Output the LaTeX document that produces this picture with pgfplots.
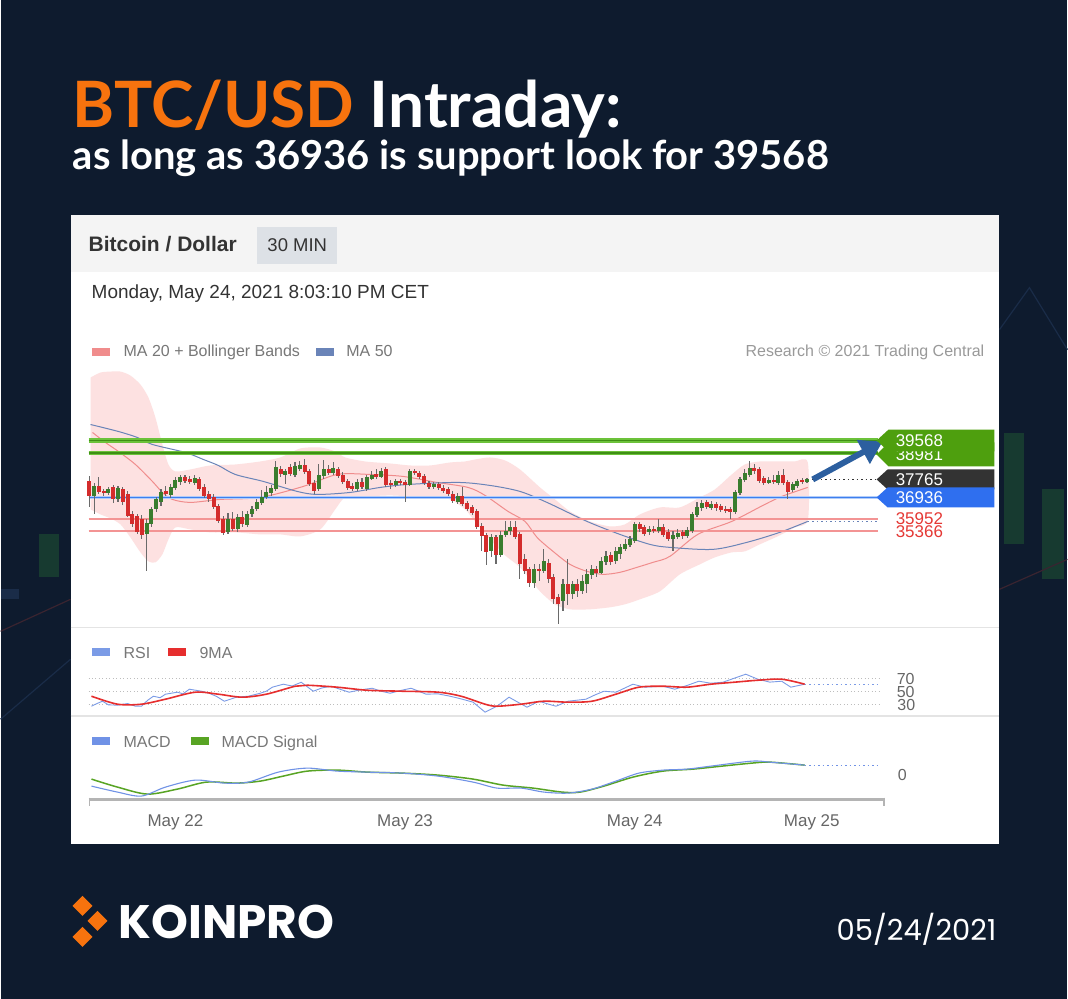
\documentclass[border=0pt]{standalone}
\usepackage{fontspec}
\setmainfont{Liberation Sans}
\newfontfamily\lato{Lato}
\newfontfamily\pop{Poppins}
\usepackage{pgfplots}
\pgfplotsset{compat=1.18}
\usepackage{pgfplotstable}
\usetikzlibrary{arrows.meta}

\definecolor{bgnavy}{HTML}{0E1B2E}
\definecolor{korange}{HTML}{F7730E}
\definecolor{headgrey}{HTML}{F4F4F4}
\definecolor{boxgrey}{HTML}{DDE1E6}
\definecolor{txtdark}{HTML}{333333}
\definecolor{txtgrey}{HTML}{777777}
\definecolor{txtlight}{HTML}{999999}
\definecolor{labelgrey}{HTML}{666666}
\definecolor{bandpink}{HTML}{FDE1E1}
\definecolor{ma20}{HTML}{F08C8C}
\definecolor{ma50}{HTML}{6A84B8}
\definecolor{lvlgreen}{HTML}{6CC23A}
\definecolor{lvlgreendk}{HTML}{3F8F15}
\definecolor{lvlblue}{HTML}{3D7FEF}
\definecolor{lvlred}{HTML}{F39494}
\definecolor{cgreen}{HTML}{3A7D2E}
\definecolor{cred}{HTML}{D42C2C}
\definecolor{wick}{HTML}{6A6A6A}
\definecolor{taggreen}{HTML}{4E9F0E}
\definecolor{tagdark}{HTML}{333333}
\definecolor{tagblue}{HTML}{2F6FEF}
\definecolor{lblred}{HTML}{E53935}
\definecolor{arrowblue}{HTML}{2C5F9F}
\definecolor{rsiblue}{HTML}{7B9BE6}
\definecolor{rsired}{HTML}{E62E2E}
\definecolor{macdblue}{HTML}{7092E6}
\definecolor{macdgreen}{HTML}{58A424}
\definecolor{axisgrey}{HTML}{B4B4B4}
\definecolor{sepgrey}{HTML}{E4E4E4}
\definecolor{dotgrey}{HTML}{BDBDBD}
\definecolor{ghostg}{HTML}{173A30}
\definecolor{ghostb}{HTML}{1A2C48}
\definecolor{ghostr}{HTML}{3A2430}

\pgfplotstableread{
t o h l c
-9.0 37674 37905 36473 36981
-8.5 36981 37581 36149 37443
-8.0 37443 37859 37073 37166
-7.5 37212 37304 36981 37119
-7.0 37119 37397 37027 37304
-6.5 37397 37489 36657 36842
-6.0 36842 37443 36704 37350
-5.5 37304 37397 36565 36704
-5.0 37073 37212 36011 36057
-4.5 36149 36288 35549 35687
-4.0 36057 36149 35225 35318
-3.5 35918 36103 34994 35179
-3.0 35225 35918 33516 35733
-2.5 35687 36473 35549 36380
-2.0 36380 36935 36242 36842
-1.5 36704 37304 36519 37166
-1.0 37212 37443 36981 37073
-0.5 37027 37535 36888 37397
0.0 37350 37859 37258 37720
0.5 37628 37951 37489 37859
1.0 37859 37951 37581 37674
1.5 37766 37905 37535 37628
2.0 37581 37951 37489 37812
2.5 37766 37859 37212 37304
3.0 37397 37535 36888 36981
3.5 37073 37212 36704 36842
4.0 36935 37073 36380 36473
4.5 36519 36611 35733 35826
5.0 35918 36057 35179 35271
5.5 35318 36195 35225 35918
6.0 35918 36242 35364 35456
6.5 35456 36149 35318 36011
7.0 36011 36288 35549 35687
7.5 35641 36288 35549 36149
8.0 36149 36519 36011 36380
8.5 36380 36842 36288 36704
9.0 36657 37258 36565 36935
9.5 36935 37443 36842 37166
10.0 37119 37489 36981 37350
10.5 37304 38598 37212 38321
11.0 38228 38367 37859 37997
11.5 37951 38228 37535 38136
12.0 38321 38459 37905 37997
12.5 37951 38552 37859 38367
13.0 38228 38598 38136 38413
13.5 38413 38690 37997 38090
14.0 38136 38228 37443 37535
14.5 37581 37720 37073 37212
15.0 37304 38459 37212 37951
15.5 37905 38644 37766 38228
16.0 38228 38413 37951 38043
16.5 38043 38552 37951 38274
17.0 38228 38321 37812 37905
17.5 37951 38090 37535 37628
18.0 37674 37766 37258 37350
18.5 37443 37581 37212 37304
19.0 37304 37766 37212 37628
19.5 37628 37812 37304 37397
20.0 37304 37951 37212 37859
20.5 37766 38136 37720 37951
21.0 37997 38228 37766 37859
21.5 37859 38274 37812 38136
22.0 38228 38321 37397 37489
22.5 37581 37720 37304 37489
23.0 37489 37766 37397 37674
23.5 37674 37766 37489 37581
24.0 37628 37720 36704 37489
24.5 37489 38228 37443 38136
25.0 38136 38228 37951 38043
25.5 38043 38136 37766 37859
26.0 37905 37997 37489 37581
26.5 37581 37674 37304 37397
27.0 37397 37628 37304 37535
27.5 37535 37628 37258 37350
28.0 37350 37489 37119 37212
28.5 37304 37397 36981 37073
29.0 37073 37212 36657 36750
29.5 36704 37119 36611 36981
30.0 36981 37397 36519 36611
30.5 36657 36750 36288 36380
31.0 36473 36565 36103 36195
31.5 36288 36380 35456 35549
32.0 35595 35733 34440 35133
32.5 35179 35271 33793 34394
33.0 34440 35225 34163 35087
33.5 35087 35179 33839 34255
34.0 34255 35364 34163 35179
34.5 35179 35826 35087 35364
35.0 35364 35826 35179 35549
35.5 35549 35826 34994 35087
36.0 35225 35318 33146 33839
36.5 34070 34301 33377 33516
37.0 33608 33701 32777 32961
37.5 32961 33839 32730 33608
38.0 33608 33839 33054 33516
38.5 33516 34532 33423 33978
39.0 33885 34070 32961 33146
39.5 33239 33377 31991 32222
40.0 32315 32453 31067 31991
40.5 32130 33146 31668 32915
41.0 32915 34070 31945 32453
41.5 32453 33054 32222 32915
42.0 32915 33146 32315 32592
42.5 32592 33331 32453 33054
43.0 32915 33608 32499 33377
43.5 33331 33793 33146 33608
44.0 33608 33747 33239 33423
44.5 33423 34163 33377 33978
45.0 33932 34440 33793 34209
45.5 34255 34394 33793 33932
46.0 33978 34625 33839 34440
46.5 34301 34763 34070 34625
47.0 34532 34994 34440 34763
47.5 34717 35133 34625 34994
48.0 34902 35780 34809 35687
48.5 35687 35780 35318 35456
49.0 35549 35641 35133 35225
49.5 35318 35595 35179 35456
50.0 35456 35595 35271 35364
50.5 35364 35918 35271 35549
51.0 35549 35687 35087 35179
51.5 35318 35456 34902 34994
52.0 34994 35364 34440 35179
52.5 35087 35456 34994 35271
53.0 35318 35410 34994 35133
53.5 35133 35549 35040 35410
54.0 35364 36242 35271 36149
54.5 36103 36704 36011 36473
55.0 36426 36796 36288 36657
55.5 36704 36796 36380 36473
56.0 36426 36750 36334 36611
56.5 36611 36704 36288 36426
57.0 36519 36611 36242 36334
57.5 36380 36519 36195 36288
58.0 36380 36473 35918 36242
58.5 36242 37258 36149 37166
59.0 37119 37859 37027 37766
59.5 37720 38228 37628 38043
60.0 37951 38598 37859 38274
60.5 38274 38459 37997 38136
61.0 38228 38321 37581 37674
61.5 37812 37905 37489 37581
62.0 37581 37859 37535 37720
62.5 37720 37951 37535 37628
63.0 37581 38136 37489 37951
63.5 37951 38228 37489 37581
64.0 37628 37720 36842 37166
64.5 37258 37628 37166 37535
65.0 37443 37766 37350 37674
65.5 37720 37812 37535 37628
66.0 37628 37812 37581 37766
}\candles

\newcommand\fs[1]{\fontsize{#1}{#1}\selectfont}
\pgfplotsset{candle/.style={only marks, mark=*, mark size=0pt,
  mark options={draw=none, fill=none}, forget plot}}

\begin{document}
\begin{tikzpicture}[x=1pt,y=1pt]
\fill[bgnavy] (0,0) rectangle (1068,1000);
% faint background ghosts
\fill[ghostg] (38,422) rectangle (58,465);
\fill[ghostb] (0,400) rectangle (18,410);
\draw[ghostb, line width=1.2pt] (0,280) -- (70,340);
\draw[ghostr, line width=1.2pt] (0,368) -- (70,400);
\fill[ghostg] (1005,455) rectangle (1025,567);
\fill[ghostg] (1043,420) rectangle (1065,510);
\draw[ghostb, line width=1.2pt] (1000,670) -- (1030,712) -- (1068,650);
\draw[ghostr, line width=1.2pt] (1000,410) -- (1068,440);

% title
\node[anchor=base west, inner sep=0, text=white] at (72,872)
  {\lato\bfseries\fs{64}\textcolor{korange}{BTC/USD} Intraday:};
\node[anchor=base west, inner sep=0, text=white] at (72,830)
  {\lato\bfseries\fs{40}as long as 36936 is support look for 39568};

% panel
\fill[white] (70,155) rectangle (1000,785);
\fill[headgrey] (70,728) rectangle (1000,785);
\fill[boxgrey] (257,736) rectangle (337,773);
\node[anchor=base west, inner sep=0, text=txtdark] at (88,748) {\bfseries\fs{21}Bitcoin / Dollar};
\node[anchor=base, inner sep=0, text=txtdark] at (297,748) {\fs{18.5}30 MIN};
\node[anchor=base west, inner sep=0, text=txtdark] at (91,701) {\fs{19}Monday, May 24, 2021 8:03:10 PM CET};
% legend main
\fill[ma20] (92,644) rectangle (110,652);
\node[anchor=base west, inner sep=0, text=txtgrey] at (123,643) {\fs{16}MA 20 + Bollinger Bands};
\fill[ma50] (316,644) rectangle (334,652);
\node[anchor=base west, inner sep=0, text=txtgrey] at (346,643) {\fs{16}MA 50};
\node[anchor=base east, inner sep=0, text=txtlight] at (985,643) {\fs{16}Research \textcopyright{} 2021 Trading Central};
% separators
\draw[sepgrey, line width=1.5pt] (70,372) -- (1000,372);
\draw[sepgrey, line width=1.5pt] (70,283) -- (1000,283);
% legend RSI
\fill[rsiblue] (92,343) rectangle (110,351);
\node[anchor=base west, inner sep=0, text=txtgrey] at (123,341) {\fs{16}RSI};
\fill[rsired] (168,343) rectangle (186,351);
\node[anchor=base west, inner sep=0, text=txtgrey] at (199,341) {\fs{16}9MA};
% legend MACD
\fill[macdblue] (92,254) rectangle (110,262);
\node[anchor=base west, inner sep=0, text=txtgrey] at (123,252) {\fs{16}MACD};
\fill[macdgreen] (191,254) rectangle (209,262);
\node[anchor=base west, inner sep=0, text=txtgrey] at (221,252) {\fs{16}MACD Signal};

% ---------------- price axis
\begin{axis}[at={(88pt,372pt)}, anchor=south west, scale only axis,
  width=797pt, height=264pt, xmin=-9.08, xmax=74.11, ymin=30929, ymax=43125,
  hide axis, clip=false]
% Bollinger band (upper edge, then lower edge back)
\addplot[fill=bandpink, draw=none, smooth, tension=0.45, forget plot] coordinates {
(-8.87,42479) (-7.83,42710) (-6.78,42756) (-5.74,42756) (-4.70,42571) (-3.65,42155) (-2.82,41555) (-2.09,40631) (-1.36,39383) (-0.73,38459) (0,38136) (1.57,38228) (3.65,38413) (6.26,38459) (8.87,38598) (10.96,38783) (13.05,39198) (15.14,39245) (16.70,39060) (17.75,38783) (19.83,38598) (22.44,38505) (24.53,38413) (26.62,38413) (28.71,38552) (30.27,38598) (31.32,38690) (32.88,38783) (34.45,38644) (36.01,38228) (38.10,37397) (39.67,36842) (41.23,36288) (43.32,35826) (45.41,35595) (46.97,35687) (48.54,36149) (50.63,36473) (52.71,36473) (54.80,36935) (56.37,37304) (58.14,37997) (59.50,38459) (61.06,38598) (63.15,38598) (64.72,38598) (66.08,38552)
(66.1,35918) (64.72,35549) (63.15,35179) (61.06,34763) (59.50,34440) (58.14,34394) (56.37,34163) (54.80,33839) (52.71,33377) (50.63,32592) (48.54,32222) (46.97,31991) (45.41,31853) (43.32,31760) (41.23,31760) (39.67,31991) (38.10,32592) (36.01,33701) (34.45,34255) (32.88,34994) (31.32,35826) (30.27,36380) (28.71,36842) (26.62,36935) (24.53,36981) (22.44,37027) (19.83,36981) (17.75,36935) (16.70,36380) (15.14,35456) (13.05,35133) (10.96,35225) (8.87,35225) (6.26,35318) (3.65,35318) (1.57,35456) (0,35549) (-0.73,34994) (-1.36,34301) (-2.09,33932) (-2.82,33978) (-3.65,34394) (-4.70,35087) (-5.74,35687) (-6.78,35964) (-7.83,36149) (-8.87,36380)} -- cycle;
% MA20
\addplot[ma20, line width=1pt, smooth, forget plot] coordinates {
(-8.66,39938) (-7.31,39476) (-5.95,39060) (-4.18,38459) (-2.40,37674) (-1.36,37166) (-0.31,36842) (1.57,36704) (4.70,36842) (8.87,36935) (13.36,37443) (16.91,37997) (20.35,37997) (23.80,37905) (27.35,37628) (30.58,37397) (32.36,37027) (34.76,36288) (36.53,35826) (37.79,35087) (39.46,34440) (41.23,33839) (43.01,33516) (44.68,33377) (46.45,33470) (48.23,33701) (49.90,33932) (51.67,34209) (54.59,35225) (58.14,35826) (61.59,36611) (63.36,36981) (66.08,37397)};
% MA50
\addplot[ma50, line width=1pt, smooth, forget plot] coordinates {
(-8.87,40307) (-5.95,39984) (-3.97,39707) (-2.40,39383) (1.04,39014) (2.92,38690) (4.49,38413) (6.26,37997) (9.19,37674) (12.73,37212) (14.82,37073) (18.27,37166) (21.40,37397) (24.32,37535) (29.54,37628) (32.88,37489) (36.01,37212) (38.83,36704) (43.01,35826) (46.45,35225) (49.58,34763) (51.67,34625) (56.16,34532) (59.71,34856) (63.15,35318) (66.08,35826)};
% levels
\addplot[lvlgreen, line width=4.5pt, forget plot] coordinates {(-9.08,39568) (73.38,39568)};
\addplot[lvlgreendk, line width=1.8pt, forget plot] coordinates {(-9.08,39568) (73.38,39568)};
\addplot[lvlgreen, line width=4.5pt, forget plot] coordinates {(-9.08,38981) (73.38,38981)};
\addplot[lvlgreendk, line width=1.8pt, forget plot] coordinates {(-9.08,38981) (73.38,38981)};
\addplot[lvlblue!40, line width=3.4pt, forget plot] coordinates {(-9.08,36936) (73.38,36936)};
\addplot[lvlblue, line width=1.6pt, forget plot] coordinates {(-9.08,36936) (73.38,36936)};
\addplot[lvlred, line width=1.8pt, forget plot] coordinates {(-9.08,35952) (73.38,35952)};
\addplot[lvlred, line width=1.8pt, forget plot] coordinates {(-9.08,35366) (73.38,35366)};
% candles: wicks
\addplot[candle,
  error bars/.cd, y dir=both, y explicit, error mark=none,
  error bar style={draw=wick, line width=1.1pt}]
  table[x=t, y expr={(\thisrow{h}+\thisrow{l})/2}, y error expr={(\thisrow{h}-\thisrow{l})/2}] {\candles};
% bodies green
\addplot[candle,
  restrict expr to domain={\thisrow{c}-\thisrow{o}}{0:100000},
  error bars/.cd, y dir=both, y explicit, error mark=none,
  error bar style={draw=cgreen, line width=4pt}]
  table[x=t, y expr={(\thisrow{o}+\thisrow{c})/2}, y error expr={abs(\thisrow{c}-\thisrow{o})/2}] {\candles};
% bodies red
\addplot[candle,
  restrict expr to domain={\thisrow{c}-\thisrow{o}}{-100000:-0.5},
  error bars/.cd, y dir=both, y explicit, error mark=none,
  error bar style={draw=cred, line width=4pt}]
  table[x=t, y expr={(\thisrow{o}+\thisrow{c})/2}, y error expr={abs(\thisrow{c}-\thisrow{o})/2}] {\candles};
% dotted extensions
\addplot[black!80, line width=1.2pt, dash pattern=on 1.5pt off 3pt, forget plot] coordinates {(66.5,37765) (73.38,37765)};
\addplot[ma50, line width=1.2pt, dash pattern=on 1.5pt off 3pt, forget plot] coordinates {(66.08,35826) (73.38,35826)};
% arrow
\addplot[arrowblue, line width=6pt, -{Triangle[length=22pt,width=26pt]}, forget plot] coordinates {(66.6,37766) (73.9,39520)};
\end{axis}

% price tags
\fill[taggreen] (877,545) -- (889,557) -- (995,557) -- (995,533) -- (889,533) -- cycle;
\node[anchor=base west, inner sep=0, text=white] at (896,539) {\fs{17}38981};
\fill[taggreen] (877,559) -- (889,570) -- (995,570) -- (995,548) -- (889,548) -- cycle;
\node[anchor=base west, inner sep=0, text=white] at (896,553) {\fs{17}39568};
\fill[tagdark] (877,520) -- (888,530) -- (995,530) -- (995,510) -- (888,510) -- cycle;
\node[anchor=base west, inner sep=0, text=white] at (896,514) {\fs{17}37765};
\fill[tagblue] (877,502) -- (888,512) -- (995,512) -- (995,492) -- (888,492) -- cycle;
\node[anchor=base west, inner sep=0, text=white] at (896,496) {\fs{17}36936};
\node[anchor=base west, inner sep=0, text=lblred] at (896,475) {\fs{17}35952};
\node[anchor=base west, inner sep=0, text=lblred] at (896,462) {\fs{17}35366};

% ---------------- RSI axis
\begin{axis}[at={(88pt,284pt)}, anchor=south west, scale only axis,
  width=797pt, height=76pt, xmin=-9.08, xmax=74.11, ymin=13.08, ymax=130,
  hide axis, clip=false]
\addplot[dotgrey, line width=1pt, dash pattern=on 1pt off 2.5pt, forget plot] coordinates {(-9.08,70) (73.6,70)};
\addplot[dotgrey, line width=1pt, dash pattern=on 1pt off 2.5pt, forget plot] coordinates {(-9.08,50) (73.6,50)};
\addplot[dotgrey, line width=1pt, dash pattern=on 1pt off 2.5pt, forget plot] coordinates {(-9.08,30) (73.6,30)};
\addplot[rsiblue, line width=0.9pt, forget plot] coordinates {
(-8.77,26.9) (-8.2,31) (-7.62,34.6) (-7.0,29) (-6.05,28.5) (-5.0,31) (-4.2,27) (-3.55,26.9) (-2.9,36) (-2.30,42.3) (-1.6,40) (-1.04,45.4) (0.21,48.5) (0.8,46) (1.46,53.1) (2.71,50) (3.5,47) (4.3,42) (5.11,34.6) (6.37,40.8) (7.62,42.3) (8.87,46.9) (9.5,50) (10.13,56.2) (11.27,60.8) (12.2,58) (13.15,63.8) (14.41,50) (15.3,55) (16.28,57.7) (17.2,53) (18.16,48.5) (19.3,52) (20.56,54.6) (21.5,50) (22.44,46.9) (23.5,51) (24.63,54.6) (26.20,45.4) (27.4,46) (28.71,42.3) (29.9,38) (31.11,33.1) (32.36,17.7) (33.61,26.9) (34.86,40.8) (35.8,33) (36.74,25.4) (38.00,34.6) (39.0,30) (39.77,26.9) (41.02,34.6) (42.90,37.7) (43.8,44) (44.78,50) (46.03,48.5) (47.81,60.8) (49.06,56.2) (50.94,57.7) (52.19,53.1) (53.5,59) (54.70,65.4) (55.95,62.3) (57.20,63.8) (58.4,70) (59.60,76.2) (60.86,68.5) (62.1,64) (63.36,65.4) (64.30,56.2) (65.76,60.8)};
\addplot[rsired, line width=1.6pt, smooth, forget plot] coordinates {
(-8.77,42.3) (-6.05,30) (-3.55,30) (-1.04,37.7) (2.09,48.5) (4.49,45.4) (6.99,40.8) (9.50,45.4) (12.53,57.7) (13.78,59.2) (16.91,56.2) (20.04,51.5) (23.70,50) (27.45,48.5) (29.85,42.3) (32.36,30) (33.61,26.9) (36.12,30) (38.52,34.6) (41.02,33.1) (43.53,34.6) (46.03,45.4) (48.43,56.2) (50.94,57.7) (53.44,56.2) (55.95,60.8) (58.35,63.8) (60.86,66.9) (63.36,68.5) (65.76,60.8)};
\addplot[rsiblue, line width=1.2pt, dash pattern=on 1.5pt off 3pt, forget plot] coordinates {(65.76,60.8) (73.6,60.8)};
\end{axis}
\node[anchor=base west, inner sep=0, text=labelgrey] at (897,315) {\fs{16}70};
\node[anchor=base west, inner sep=0, text=labelgrey] at (897,302) {\fs{16}50};
\node[anchor=base west, inner sep=0.6pt, fill=white, text=labelgrey] at (897,289) {\fs{16}30};

% ---------------- MACD axis
\begin{axis}[at={(88pt,200pt)}, anchor=south west, scale only axis,
  width=797pt, height=73pt, xmin=-9.08, xmax=74.11, ymin=-500, ymax=960,
  axis x line*=bottom, axis y line=none, ytick=\empty,
  xtick={0,24,48,66.5}, xticklabels={May 22,May 23,May 24,May 25},
  major tick length=0pt,
  x axis line style={-, draw=axisgrey, line width=3pt},
  xticklabel style={anchor=base, yshift=-27pt, font=\fs{17}, text=labelgrey},
  clip=false]
\addplot[macdgreen, line width=1.5pt, smooth, forget plot] coordinates {
(-8.77,-100) (-6.05,-260) (-2.92,-400) (0.21,-300) (3.24,-160) (6.37,-180) (8.87,-140) (11.27,-40) (13.78,60) (16.91,80) (20.04,40) (23.70,20) (27.45,-20) (31.11,-100) (34.24,-220) (37.37,-280) (40.40,-360) (42.28,-360) (44.78,-240) (47.81,-60) (50.94,60) (54.07,100) (57.10,160) (60.23,220) (62.11,240) (65.76,180)};
\addplot[macdblue, line width=1.1pt, smooth, forget plot] coordinates {
(-8.77,-240) (-6.05,-360) (-3.55,-440) (-1.04,-260) (2.09,-120) (5.11,-180) (7.62,-160) (10.75,40) (13.78,120) (16.91,60) (20.04,40) (23.70,20) (27.45,-40) (31.11,-160) (33.61,-280) (36.12,-280) (38.52,-360) (41.02,-380) (43.53,-300) (46.03,-140) (48.43,20) (50.94,80) (53.44,100) (55.95,160) (60.23,260) (62.11,240) (65.76,180)};
\addplot[macdblue, line width=1.2pt, dash pattern=on 1.5pt off 3pt, forget plot] coordinates {(65.76,180) (73.6,180)};
\end{axis}
\draw[axisgrey, line width=2pt] (89,201.5) -- (89,193);
\draw[axisgrey, line width=2pt] (884,201.5) -- (884,193);
\node[anchor=base west, inner sep=0, text=labelgrey] at (898,219) {\fs{16}0};

% logo
\fill[korange] (82,103) -- (92,93) -- (82,83) -- (72,93) -- cycle;
\fill[korange] (97,88) -- (107,78) -- (97,68) -- (87,78) -- cycle;
\fill[korange] (82,72) -- (92,62) -- (82,52) -- (72,62) -- cycle;
\node[anchor=base west, inner sep=0, text=white] at (118,60) {\pop\bfseries\fs{47}KOINPRO};
\node[anchor=base east, inner sep=0, text=white] at (997,58) {\pop\fs{29}05/24/2021};
\end{tikzpicture}
\end{document}
